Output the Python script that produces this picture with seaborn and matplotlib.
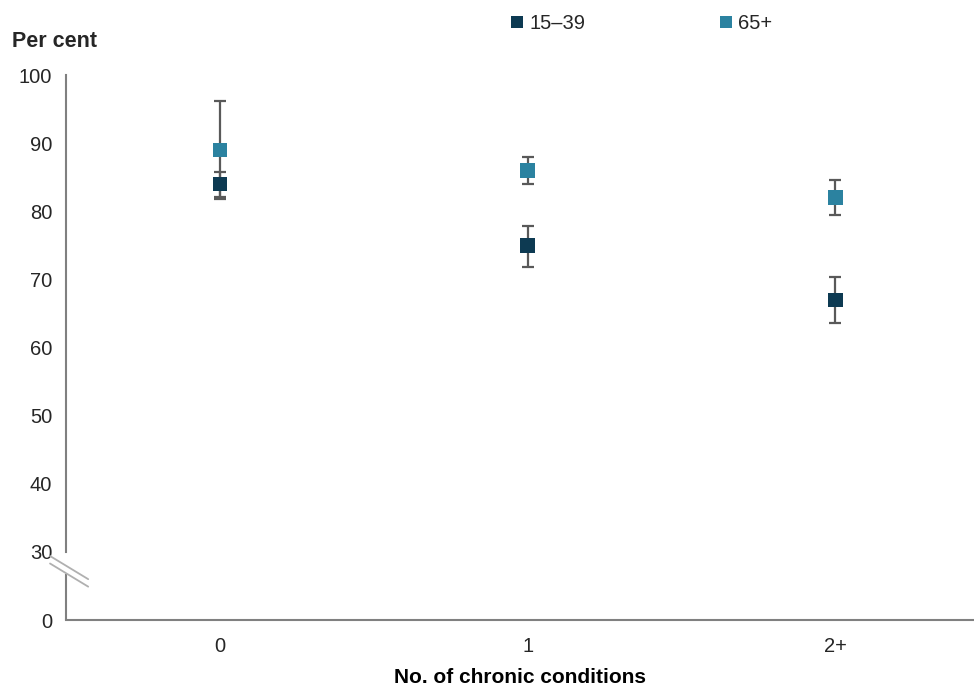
import matplotlib
matplotlib.use("Agg")
import matplotlib.pyplot as plt
from matplotlib.lines import Line2D
import numpy as np
import pandas as pd
import seaborn as sns

# Data
conditions = ["0", "1", "2+"]
groups = ["15\u201339", "65+"]
young_vals = [84.0, 75.0, 67.0]
young_low = [82.1, 71.9, 63.6]
young_high = [85.8, 77.8, 70.3]
old_vals = [89.0, 86.0, 82.0]
old_low = [81.8, 84.0, 79.5]
old_high = [96.2, 88.0, 84.6]

colors = {"15\u201339": "#0d3a52", "65+": "#2b82a0"}
ytick_vals = [20, 30, 40, 50, 60, 70, 80, 90, 100]  # 20 is drawn as "0" (broken axis)
ytick_labels = ["0", "30", "40", "50", "60", "70", "80", "90", "100"]

sns.set_style("white")
plt.rcParams["font.family"] = ["Liberation Sans", "DejaVu Sans"]

df = pd.DataFrame({
    "x": list(range(3)) * 2,
    "value": young_vals + old_vals,
    "low": young_low + old_low,
    "high": young_high + old_high,
    "group": [groups[0]] * 3 + [groups[1]] * 3,
})

fig = plt.figure(figsize=(9.74, 6.88), dpi=100)
ax = fig.add_axes([0.0678, 0.0988, 0.9322, 0.792])

# error bars first so markers sit on top
for g in groups[::-1]:
    d = df[df["group"] == g]
    ax.errorbar(d["x"], d["value"],
                yerr=[d["value"] - d["low"], d["high"] - d["value"]],
                fmt="none", ecolor="#595959", elinewidth=1.6,
                capsize=4.5, capthick=1.6, zorder=2)

sns.scatterplot(data=df, x="x", y="value", hue="group", palette=colors,
                marker="s", s=110, linewidth=0, legend=False, ax=ax, zorder=3)

ax.set_xlim(-0.5, 2.45)
ax.set_ylim(20, 100)
ax.set_xticks(range(3))
ax.set_xticklabels(conditions)
ax.set_yticks(ytick_vals)
ax.set_yticklabels(ytick_labels)
ax.tick_params(axis="x", length=0, labelsize=14.5, colors="#262626", pad=12)
ax.tick_params(axis="y", length=5, width=1.5, color="#808080",
               labelsize=14.5, colors="#262626", pad=5)
ax.set_xlabel("No. of chronic conditions", fontsize=15, fontweight="bold",
              labelpad=9, color="black")
ax.set_ylabel("")

for side in ["top", "right"]:
    ax.spines[side].set_visible(False)
for side in ["left", "bottom"]:
    ax.spines[side].set_color("#808080")
    ax.spines[side].set_linewidth(1.5)
ax.spines["left"].set_bounds(30, 100)

# lower stub of the broken y-axis and the break marks
ax.plot([-0.5, -0.5], [20, 26.8], color="#808080", lw=1.5,
        clip_on=False, zorder=1, solid_capstyle="butt")
ax.plot([-0.5 - 0.052, -0.5 + 0.072], [29.4, 26.0], color="#b0b0b0",
        lw=1.3, clip_on=False)
ax.plot([-0.5 - 0.052, -0.5 + 0.072], [28.3, 24.9], color="#b0b0b0",
        lw=1.3, clip_on=False)

fig.text(0.012, 0.932, "Per cent", fontsize=15.5, fontweight="bold")

handles = [Line2D([], [], marker="s", linestyle="none", markersize=8,
                  markerfacecolor=colors[g], markeredgewidth=0) for g in groups]
fig.legend(handles, groups, loc="center left", bbox_to_anchor=(0.502, 0.966),
           ncol=2, frameon=False, fontsize=14.5, handletextpad=0.1,
           columnspacing=6.5, handlelength=1.0)

fig.savefig("out.png", dpi=100)
